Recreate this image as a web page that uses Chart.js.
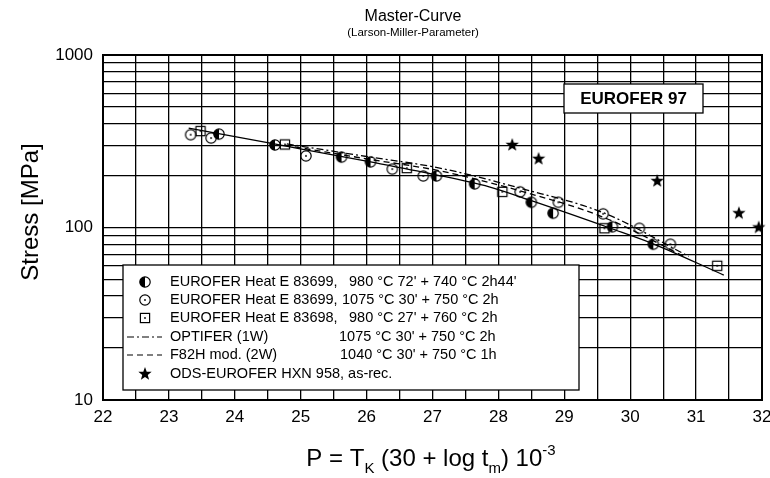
<!DOCTYPE html>
<html>
<head>
<meta charset="utf-8">
<script src="https://cdn.jsdelivr.net/npm/chart.js@4.4.1/dist/chart.umd.min.js"></script>
<style>
    body { margin: 0; background: #fff; }
    #wrap { width: 770px; height: 478px; }
</style>
</head>
<body>
<div id="wrap"><canvas id="masterChart" width="770" height="478"></canvas></div>
<script>
// Larson-Miller master curve
const xGrid = [22, 22.5, 23, 23.5, 24, 24.5, 25, 25.5, 26, 26.5, 27, 27.5, 28, 28.5, 29, 29.5, 30, 30.5, 31, 31.5, 32];
const xTickLabels = [22, 23, 24, 25, 26, 27, 28, 29, 30, 31, 32];
const yGrid = [10, 20, 30, 40, 50, 60, 70, 80, 90, 100, 200, 300, 400, 500, 600, 700, 800, 900, 1000];
const yTickLabels = [10, 100, 1000];

// EUROFER Heat E 83699, 980 C 72' + 740 C 2h44'
const heatA_P = [23.76, 24.61, 25.62, 26.06, 27.06, 27.64, 28.50, 28.83, 29.73, 30.35];
const heatA_S = [348, 301, 256, 240, 199, 179, 140, 121, 101, 80];
// EUROFER Heat E 83699, 1075 C 30' + 750 C 2h
const heatB_P = [23.33, 23.64, 25.08, 26.39, 26.86, 28.33, 28.91, 29.59, 30.14, 30.61];
const heatB_S = [345, 330, 260, 218, 199, 161, 140, 120, 99, 80];
// EUROFER Heat E 83698, 980 C 27' + 760 C 2h
const heatC_P = [23.48, 24.76, 26.61, 28.06, 29.61, 31.32];
const heatC_S = [362, 303, 221, 161, 99, 60];
// ODS-EUROFER HXN 958, as-rec.
const ods_P = [28.21, 28.61, 30.41, 31.65, 31.95];
const ods_S = [301, 250, 186, 121, 100];

// master curve (solid), OPTIFER (dash-dot), F82H mod. (dashed)
const fit_P = [23.3, 24.6, 26.06, 27.0, 27.86, 28.5, 29.7, 30.33, 31.42];
const fit_S = [377, 305, 240, 204, 172, 143, 99, 81, 53];
const optifer_P = [24.79, 26.0, 27.11, 28.33, 29.61, 30.89];
const optifer_S = [305, 258, 221, 169, 121, 68];
const f82h_P = [24.76, 26.0, 27.11, 28.33, 29.61, 30.85];
const f82h_S = [300, 250, 213, 163, 114, 67];

const pts = (xs, ys) => xs.map((x, i) => ({ x: x, y: ys[i] }));

function makeMarker(size, draw) {
    const c = document.createElement('canvas');
    c.width = c.height = size;
    const g = c.getContext('2d');
    g.strokeStyle = '#000';
    g.fillStyle = '#000';
    g.lineWidth = 1.2;
    draw(g, size / 2);
    return c;
}

const halfCircle = makeMarker(14, function(g, m) {
    g.beginPath();
    g.arc(m, m, 5.2, Math.PI / 2, Math.PI * 1.5);
    g.closePath();
    g.fill();
    g.beginPath();
    g.arc(m, m, 5.2, 0, Math.PI * 2);
    g.stroke();
});
const dotCircle = makeMarker(14, function(g, m) {
    g.beginPath();
    g.arc(m, m, 5.2, 0, Math.PI * 2);
    g.stroke();
    g.beginPath();
    g.arc(m, m, 0.9, 0, Math.PI * 2);
    g.fill();
});
const dotSquare = makeMarker(14, function(g, m) {
    g.strokeRect(m - 4.6, m - 4.6, 9.2, 9.2);
    g.beginPath();
    g.arc(m, m, 0.9, 0, Math.PI * 2);
    g.fill();
});
const filledStar = makeMarker(16, function(g, m) {
    g.beginPath();
    for (let i = 0; i < 10; i++) {
        const r = i % 2 === 0 ? 7 : 2.9;
        const a = -Math.PI / 2 + i * Math.PI / 5;
        g.lineTo(m + r * Math.cos(a), m + r * Math.sin(a));
    }
    g.closePath();
    g.fill();
});

const FONT = "'Liberation Sans', Arial, Helvetica, sans-serif";

// titles, axis titles, legend box and the EUROFER 97 label
const decorPlugin = {
    id: 'decor',
    afterDatasetsDraw(chart) {
        const ctx = chart.ctx;
        const a = chart.chartArea;
        ctx.save();
        ctx.fillStyle = '#000';
        ctx.strokeStyle = '#000';

        // frame
        ctx.lineWidth = 2;
        ctx.strokeRect(a.left, a.top, a.right - a.left, a.bottom - a.top);

        // title
        ctx.textAlign = 'center';
        ctx.textBaseline = 'middle';
        ctx.font = '16px ' + FONT;
        ctx.fillText('Master-Curve', 413, 17);
        ctx.font = '11.5px ' + FONT;
        ctx.fillText('(Larson-Miller-Parameter)', 413, 33);

        // y title
        ctx.save();
        ctx.translate(31, 212);
        ctx.rotate(-Math.PI / 2);
        ctx.font = '24px ' + FONT;
        ctx.fillText('Stress [MPa]', 0, 0);
        ctx.restore();

        // x title with sub/superscripts
        const parts = [
            ['P = T', 24, 0], ['K', 15, 7], [' (30 + log t', 24, 0], ['m', 15, 7], [') 10', 24, 0], ['-3', 15, -11]
        ];
        let total = 0;
        parts.forEach(p => { ctx.font = p[1] + 'px ' + FONT; total += ctx.measureText(p[0]).width; });
        let x = 431 - total / 2;
        ctx.textAlign = 'left';
        ctx.textBaseline = 'alphabetic';
        parts.forEach(p => {
            ctx.font = p[1] + 'px ' + FONT;
            ctx.fillText(p[0], x, 466 + p[2]);
            x += ctx.measureText(p[0]).width;
        });

        // EUROFER 97 box
        ctx.fillStyle = '#fff';
        ctx.fillRect(564, 84, 139, 29);
        ctx.lineWidth = 1.3;
        ctx.strokeRect(564, 84, 139, 29);
        ctx.fillStyle = '#000';
        ctx.font = 'bold 17px ' + FONT;
        ctx.textAlign = 'center';
        ctx.textBaseline = 'middle';
        ctx.fillText('EUROFER 97', 633.5, 99);

        // legend
        ctx.fillStyle = '#fff';
        ctx.fillRect(123, 265, 456, 125);
        ctx.strokeRect(123, 265, 456, 125);
        ctx.fillStyle = '#000';
        ctx.font = '14.5px ' + FONT;
        ctx.textAlign = 'left';
        const rows = [
            { y: 282, mark: halfCircle, name: 'EUROFER Heat E 83699,', cond: '980 \u00B0C 72\' + 740 \u00B0C 2h44\'', cx: 349 },
            { y: 300, mark: dotCircle, name: 'EUROFER Heat E 83699,', cond: '1075 \u00B0C 30\' + 750 \u00B0C 2h', cx: 342 },
            { y: 318, mark: dotSquare, name: 'EUROFER Heat E 83698,', cond: '980 \u00B0C 27\' + 760 \u00B0C 2h', cx: 349 },
            { y: 337, dash: [7, 3, 2, 3], name: 'OPTIFER (1W)', cond: '1075 \u00B0C 30\' + 750 \u00B0C 2h', cx: 339 },
            { y: 355, dash: [6, 4], name: 'F82H mod. (2W)', cond: '1040 \u00B0C 30\' + 750 \u00B0C 1h', cx: 340 },
            { y: 374, mark: filledStar, name: 'ODS-EUROFER HXN 958, as-rec.' }
        ];
        rows.forEach(r => {
            if (r.mark) {
                ctx.drawImage(r.mark, 145 - r.mark.width / 2, r.y - r.mark.height / 2);
            } else {
                ctx.save();
                ctx.lineWidth = 1.2;
                ctx.setLineDash(r.dash);
                ctx.beginPath();
                ctx.moveTo(127, r.y);
                ctx.lineTo(162, r.y);
                ctx.stroke();
                ctx.restore();
            }
            ctx.fillText(r.name, 170, r.y);
            if (r.cond) ctx.fillText(r.cond, r.cx, r.y);
        });
        ctx.restore();
    }
};

const lineStyle = { showLine: true, pointRadius: 0, borderColor: '#000', borderWidth: 1.3, fill: false, cubicInterpolationMode: 'monotone', order: 2 };
const markStyle = { showLine: false, pointRadius: 6, clip: false, order: 1 };

new Chart(document.getElementById('masterChart'), {
    type: 'scatter',
    data: {
        datasets: [
            Object.assign({ label: 'Master curve', data: pts(fit_P, fit_S) }, lineStyle),
            Object.assign({ label: 'OPTIFER (1W)', data: pts(optifer_P, optifer_S), borderDash: [7, 3, 2, 3] }, lineStyle),
            Object.assign({ label: 'F82H mod. (2W)', data: pts(f82h_P, f82h_S), borderDash: [6, 4] }, lineStyle),
            Object.assign({ label: 'E 83699 980', data: pts(heatA_P, heatA_S), pointStyle: halfCircle }, markStyle),
            Object.assign({ label: 'E 83699 1075', data: pts(heatB_P, heatB_S), pointStyle: dotCircle }, markStyle),
            Object.assign({ label: 'E 83698', data: pts(heatC_P, heatC_S), pointStyle: dotSquare }, markStyle),
            Object.assign({ label: 'ODS-EUROFER', data: pts(ods_P, ods_S), pointStyle: filledStar }, markStyle)
        ]
    },
    options: {
        responsive: false,
        animation: false,
        layout: { padding: { top: 55, right: 8, left: 0, bottom: 0 } },
        plugins: {
            legend: { display: false },
            tooltip: { enabled: false }
        },
        scales: {
            x: {
                type: 'linear',
                min: 22,
                max: 32,
                afterBuildTicks: function(scale) { scale.ticks = xGrid.map(v => ({ value: v })); },
                afterFit: function(scale) {
                    scale.height = 78;
                    scale.paddingLeft = 0;
                    scale.paddingRight = 0;
                },
                ticks: {
                    autoSkip: false,
                    maxRotation: 0,
                    padding: 7,
                    color: '#000',
                    font: { family: FONT, size: 17 },
                    callback: function(value) { return xTickLabels.includes(value) ? String(value) : ''; }
                },
                grid: { color: '#000', lineWidth: 1.3, drawTicks: false },
                border: { color: '#000', width: 2 }
            },
            y: {
                type: 'logarithmic',
                min: 10,
                max: 1000,
                afterBuildTicks: function(scale) { scale.ticks = yGrid.map(v => ({ value: v })); },
                afterFit: function(scale) {
                    scale.width = 103;
                    scale.paddingTop = 0;
                    scale.paddingBottom = 0;
                },
                ticks: {
                    autoSkip: false,
                    padding: 10,
                    color: '#000',
                    font: { family: FONT, size: 17 },
                    callback: function(value) { return yTickLabels.includes(value) ? String(value) : ''; }
                },
                grid: { color: '#000', lineWidth: 1.3, drawTicks: false },
                border: { color: '#000', width: 2 }
            }
        }
    },
    plugins: [decorPlugin]
});
</script>
</body>
</html>
